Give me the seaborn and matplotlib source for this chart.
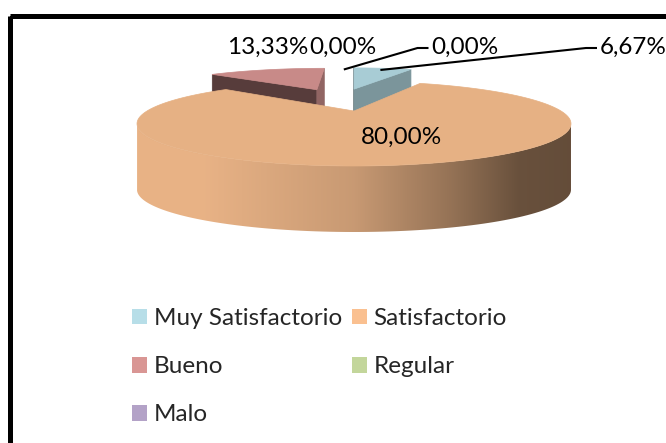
import numpy as np
import matplotlib
matplotlib.use("Agg")
import matplotlib.pyplot as plt
from matplotlib.patches import Polygon, Patch, Rectangle
import seaborn as sns

categories = ["Muy Satisfactorio", "Satisfactorio", "Bueno", "Regular", "Malo"]
percentages = [6.67, 80.00, 13.33, 0.00, 0.00]
colors = ["#B7DEE8", "#FAC090", "#D99694", "#C3D69B", "#B3A2C7"]

sns.set_theme(style="white")
plt.rcParams["font.family"] = ["Lato", "DejaVu Sans"]
FS = 17.5

# view of the 3d pie, in pixels
CX, CY = 354, 111
RX, RY = 207, 38.5
PERSP = 0.3
DEPTH = 66
EXPLODE = 0.35
CAM = np.array([0.0, -1.0 / PERSP])


def project(u, v):
    p = 1.0 / (1.0 + PERSP * np.asarray(v))
    return CX + RX * np.asarray(u) * p, CY - RY * np.asarray(v) * p


def shade(c, f):
    return np.clip(np.array(matplotlib.colors.to_rgb(c)) * f, 0, 1)


vals = np.array(percentages)
ends = np.cumsum(vals) / vals.sum() * 360
starts = ends - vals / vals.sum() * 360
mids = np.radians((starts + ends) / 2)
offs = EXPLODE * np.column_stack([np.sin(mids), np.cos(mids)])
offs -= offs[np.argmax(vals)]

fig = plt.figure(figsize=(6.66, 4.43), dpi=100)
ax = fig.add_axes([0, 0, 1, 1])
ax.set_xlim(0, 666)
ax.set_ylim(443, 0)
ax.axis("off")

palette = sns.color_palette(colors)

for i in np.argsort(-offs[:, 1]):
    if vals[i] <= 0:
        continue
    ou, ov = offs[i]
    th = np.radians(np.linspace(starts[i], ends[i], 200))
    ru, rv = ou + np.sin(th), ov + np.cos(th)
    rx, ry = project(ru, rv)
    axp, ayp = project(ou, ov)

    # outer wall
    vis = (CAM[0] - ru) * np.sin(th) + (CAM[1] - rv) * np.cos(th) > 0
    if vis.sum() > 1:
        wx, wy = rx[vis], ry[vis]
        pts = np.column_stack([np.r_[wx, wx[::-1]], np.r_[wy, wy[::-1] + DEPTH]])
        wall = Polygon(pts, closed=True, facecolor="none", edgecolor="none")
        ax.add_patch(wall)
        t = np.linspace(0, 1, 256)
        f = np.interp(t, [0, 0.15, 0.5, 0.72, 0.88, 1], [0.93, 0.93, 0.8, 0.6, 0.42, 0.40])
        grad = np.array([shade(palette[i], k) for k in f])[None, :, :]
        im = ax.imshow(grad, extent=(wx.min(), wx.max(), wy.max() + DEPTH, wy.min()),
                       aspect="auto", interpolation="bilinear")
        im.set_clip_path(wall)

    # cut faces
    for ang, rxe, rye, sign, fct in [(starts[i], rx[0], ry[0], -1, 0.40),
                                     (ends[i], rx[-1], ry[-1], 1, 0.67)]:
        a = np.radians(ang)
        n = sign * np.array([np.cos(a), -np.sin(a)])
        if np.dot(CAM - np.array([ou, ov]), n) > 1e-6:
            q = [(axp, ayp), (rxe, rye), (rxe, rye + DEPTH), (axp, ayp + DEPTH)]
            ax.add_patch(Polygon(q, closed=True, facecolor=shade(palette[i], fct),
                                 edgecolor=shade(palette[i], fct), lw=0.5))

    # top face
    top = np.column_stack([np.r_[axp, rx], np.r_[ayp, ry]])
    ax.add_patch(Polygon(top, closed=True, facecolor=shade(palette[i], 0.92),
                         edgecolor=shade(palette[i], 0.92), lw=0.5))

# data labels
label_pos = [(600, 54, "left"), (402, 144, "center"), (268, 54, "center"),
             (343, 54, "center"), (464.5, 54, "center")]
leader = [True, False, False, False, True]
for i, v in enumerate(percentages):
    txt = f"{v:.2f}".replace(".", ",") + "%"
    x, y, ha = label_pos[i]
    ax.text(x, y, txt, ha=ha, va="baseline", fontsize=FS, color="black")
    if leader[i]:
        ou, ov = offs[i]
        m = mids[i]
        sx, sy = project(ou + 0.9 * np.sin(m), ov + 0.9 * np.cos(m))
        left = x if ha == "left" else x - 33
        ax.plot([sx, left - 14, left - 3], [sy, y - 6, y - 6], color="black",
                lw=1.5, solid_capstyle="butt")

# chart border
ax.add_patch(Rectangle((9.5, 15.5), 700, 500, fill=False, edgecolor="black", lw=3.6))

# legend, row by row like the original
handles = [Patch(facecolor=c, edgecolor="none") for c in colors]
order = [0, 2, 4, 1, 3]
ax.legend([handles[k] for k in order], [categories[k] for k in order], ncol=2,
          loc="upper left", bbox_to_anchor=(132, 308), bbox_transform=ax.transData,
          frameon=False, fontsize=FS, handlelength=0.62, handleheight=0.62,
          handletextpad=0.28, columnspacing=0.4, labelspacing=1.12,
          borderpad=0, borderaxespad=0)

fig.savefig("out.png", dpi=100)
